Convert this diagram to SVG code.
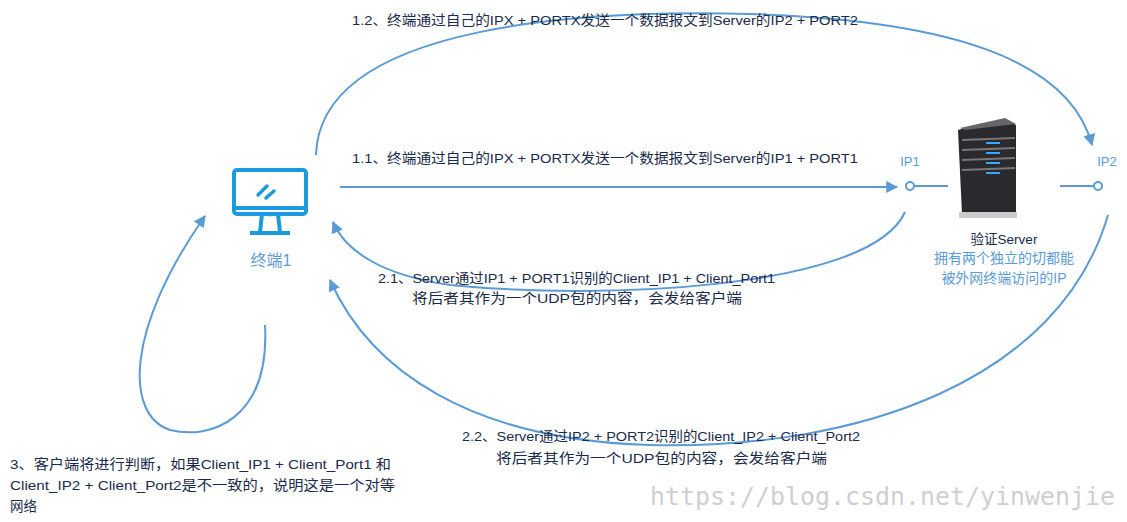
<svg xmlns="http://www.w3.org/2000/svg" width="1127" height="522" viewBox="0 0 1127 522">
<style>
.t{font-family:"Liberation Sans","Noto Sans CJK SC",sans-serif;font-size:13.5px;fill:#1a2a4a}
.b{font-family:"Liberation Sans","Noto Sans CJK SC",sans-serif;font-size:13px;fill:#5b9bd5}
.c{fill:none;stroke:#5b9bd5;stroke-width:2}
</style>
<defs><marker id="a" viewBox="0 0 10 10" refX="9" refY="5" markerWidth="6" markerHeight="6" orient="auto-start-reverse"><path d="M0,0L10,5L0,10z" fill="#5b9bd5"/></marker></defs>
<rect width="1127" height="522" fill="#fff"/>
<g id="connectors">
<path class="c" d="M316,155 C320,20 600,10 750,14 C950,20 1070,60 1092,145" marker-end="url(#a)"/>
<path class="c" d="M340,187 L897,187" marker-end="url(#a)"/>
<path class="c" d="M905,212 C870,290 600,300 450,285 C380,275 345,250 333,222" marker-end="url(#a)"/>
<path class="c" d="M1108,215 C1060,380 860,450 650,445 C470,440 370,370 330,280" marker-end="url(#a)"/>
<path class="c" d="M265,325 C270,420 210,440 170,430 C125,415 125,330 205,216" marker-end="url(#a)"/>
<line class="c" x1="914" y1="186" x2="948" y2="186"/>
<line class="c" x1="1060" y1="186" x2="1094" y2="186"/>
<circle cx="910" cy="186" r="4" fill="#fff" stroke="#5b9bd5" stroke-width="2"/>
<circle cx="1098" cy="186" r="4" fill="#fff" stroke="#5b9bd5" stroke-width="2"/>
</g>
<g id="terminal">
<rect x="234" y="170" width="72" height="44" rx="3" fill="none" stroke="#1a9be0" stroke-width="4"/>
<line x1="234" y1="208" x2="306" y2="208" stroke="#1a9be0" stroke-width="4"/>
<path d="M262,214 L260,232 M278,214 L280,232 M250,233 L290,233" stroke="#1a9be0" stroke-width="4" fill="none"/>
<path d="M258,195 L267,186 M266,198 L274,191" stroke="#1a9be0" stroke-width="3.5" stroke-linecap="round"/>
<circle cx="270" cy="215" r="1.5" fill="#1a9be0"/>
<text x="271" y="266" text-anchor="middle" class="b" style="font-size:16px">终端1</text>
</g>
<g id="server">
<path d="M965,128 L1010,122 L1016,125 L1016,212 L962,214 L958,130z" fill="#2a2a2e"/>
<path d="M960,128 L1005,118 L1016,124 L965,130z" fill="#666"/>
<g stroke="#777" stroke-width="2"><line x1="962" y1="140" x2="1015" y2="138"/><line x1="962" y1="150" x2="1015" y2="148"/><line x1="962" y1="160" x2="1015" y2="158"/><line x1="962" y1="170" x2="1015" y2="168"/></g>
<g stroke="#39a8ff" stroke-width="2"><line x1="986" y1="143" x2="1000" y2="143"/><line x1="986" y1="153" x2="1000" y2="153"/><line x1="986" y1="163" x2="1000" y2="163"/><line x1="986" y1="173" x2="1000" y2="173"/></g>
<rect x="959" y="212" width="58" height="6" fill="#ccc"/>
<text x="1004" y="244" text-anchor="middle" class="t">验证Server</text>
<text x="1004" y="263" text-anchor="middle" class="b" style="font-size:14px">拥有两个独立的切都能</text>
<text x="1004" y="283" text-anchor="middle" class="b" style="font-size:14px">被外网终端访问的IP</text>
<text x="910" y="166" text-anchor="middle" class="b">IP1</text>
<text x="1107" y="166" text-anchor="middle" class="b">IP2</text>
</g>
<g id="labels">
<text x="352" y="25" class="t" textLength="506" lengthAdjust="spacingAndGlyphs">1.2、终端通过自己的IPX + PORTX发送一个数据报文到Server的IP2 + PORT2</text>
<text x="352" y="163" class="t" textLength="506" lengthAdjust="spacingAndGlyphs">1.1、终端通过自己的IPX + PORTX发送一个数据报文到Server的IP1 + PORT1</text>
<text x="378" y="283" class="t" textLength="397" lengthAdjust="spacingAndGlyphs">2.1、Server通过IP1 + PORT1识别的Client_IP1 + Client_Port1</text>
<text x="412" y="303" class="t" textLength="330" lengthAdjust="spacingAndGlyphs">将后者其作为一个UDP包的内容，会发给客户端</text>
<text x="462" y="441" class="t" textLength="398" lengthAdjust="spacingAndGlyphs">2.2、Server通过IP2 + PORT2识别的Client_IP2 + Client_Port2</text>
<text x="496" y="463" class="t" textLength="331" lengthAdjust="spacingAndGlyphs">将后者其作为一个UDP包的内容，会发给客户端</text>
<text x="10" y="469" class="t" textLength="381" lengthAdjust="spacingAndGlyphs">3、客户端将进行判断，如果Client_IP1 + Client_Port1 和</text>
<text x="10" y="490" class="t" textLength="385" lengthAdjust="spacingAndGlyphs">Client_IP2 + Client_Port2是不一致的，说明这是一个对等</text>
<text x="10" y="511" class="t">网络</text>
<text x="1115" y="505" text-anchor="end" textLength="465" lengthAdjust="spacingAndGlyphs" style="font-family:'DejaVu Sans Mono',monospace;font-size:24px;fill:#cfcfcf">https://blog.csdn.net/yinwenjie</text>
</g>
</svg>
